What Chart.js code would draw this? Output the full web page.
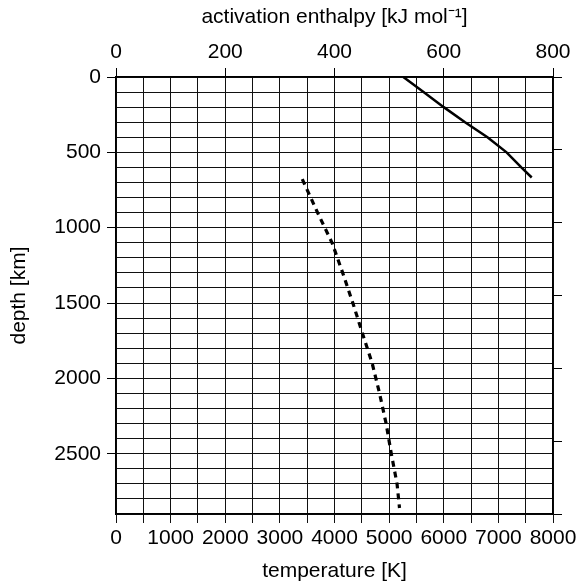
<!DOCTYPE html>
<html>
<head>
<meta charset="utf-8">
<script src="https://cdn.jsdelivr.net/npm/chart.js@4"></script>
<style>
  body { margin: 0; background: #fff; }
  #wrap { width: 585px; height: 586px; }
</style>
</head>
<body>
<div id="wrap"><canvas id="myChart" width="585" height="586"></canvas></div>
<script>
// depth [km] and activation enthalpy [kJ/mol] (top axis, solid line)
const enthalpyDepth = [0, 100, 200, 300, 400, 500, 600, 667];
const enthalpyValues = [526, 563, 600, 639, 680, 715, 742, 761];

// depth [km] and temperature [K] (bottom axis, dashed line)
const temperatureDepth = [678, 900, 1100, 1300, 1500, 1700, 1900, 2100, 2300, 2500, 2700, 2860];
const temperatureValues = [3410, 3690, 3955, 4150, 4336, 4510, 4690, 4825, 4945, 5040, 5145, 5190];

const bottomTitle = 'temperature [K]';
const topTitle = 'activation enthalpy [kJ mol\u207B\u00B9]';
const leftTitle = 'depth [km]';

Chart.defaults.font.family = '"Liberation Sans", Arial, Helvetica, sans-serif';
Chart.defaults.font.size = 21;
Chart.defaults.color = '#000';

const toPoints = (xs, ys) => xs.map((d, i) => ({ x: ys[i], y: d }));

let ctx = document.getElementById('myChart').getContext('2d');
let myChart = new Chart(ctx, {
  type: 'scatter',
  data: {
    datasets: [
      {
        label: 'enthalpy',
        data: toPoints(enthalpyDepth, enthalpyValues),
        xAxisID: 'x2',
        yAxisID: 'y',
        showLine: true,
        borderColor: '#000',
        borderWidth: 2.5,
        pointRadius: 0,
        fill: false
      },
      {
        label: 'temperature',
        data: toPoints(temperatureDepth, temperatureValues),
        xAxisID: 'x',
        yAxisID: 'y',
        showLine: true,
        borderColor: '#000',
        borderWidth: 3.2,
        borderDash: [6, 5],
        pointRadius: 0,
        fill: false
      }
    ]
  },
  options: {
    responsive: false,
    animation: false,
    layout: { padding: 0 },
    plugins: { legend: { display: false }, tooltip: { enabled: false } },
    scales: {
      x: {
        type: 'linear',
        position: 'bottom',
        min: 0,
        max: 8000,
        ticks: {
          stepSize: 500,
          autoSkip: false,
          maxRotation: 0,
          padding: 3,
          callback: v => (v % 1000 === 0 ? String(v) : '')
        },
        grid: { color: '#111', lineWidth: 1, tickLength: 9 },
        border: { color: '#000', width: 1.5 },
        title: { display: true, text: bottomTitle, padding: { top: 0, bottom: 2 } },
        afterFit: s => { s.height = 72; }
      },
      x2: {
        type: 'linear',
        position: 'top',
        min: 0,
        max: 800,
        ticks: { stepSize: 200, autoSkip: false, maxRotation: 0, padding: 3 },
        grid: { drawOnChartArea: false, color: '#000', tickLength: 9 },
        border: { color: '#000', width: 1.5 },
        title: { display: true, text: topTitle, padding: { top: 5, bottom: 0 } },
        afterFit: s => { s.height = 77; }
      },
      y: {
        type: 'linear',
        position: 'left',
        reverse: true,
        min: 0,
        max: 2900,
        ticks: {
          stepSize: 100,
          autoSkip: false,
          padding: 6,
          callback: v => (v % 500 === 0 ? String(v) : '')
        },
        grid: {
          color: '#111',
          lineWidth: 1,
          tickLength: 9,
          tickColor: c => (c.tick && c.tick.value % 500 === 0 ? '#000' : 'rgba(0,0,0,0)')
        },
        border: { color: '#000', width: 1.5 },
        title: { display: true, text: leftTitle, padding: { top: 7, bottom: 0 } },
        afterFit: s => { s.width = 116; }
      },
      yR: {
        type: 'linear',
        position: 'right',
        reverse: true,
        min: 0,
        max: 2900,
        ticks: { display: false, stepSize: 500, autoSkip: false },
        grid: { drawOnChartArea: false, color: '#000', tickLength: 9 },
        border: { color: '#000', width: 1.5 },
        afterFit: s => { s.width = 32; }
      }
    }
  }
});
</script>
</body>
</html>
